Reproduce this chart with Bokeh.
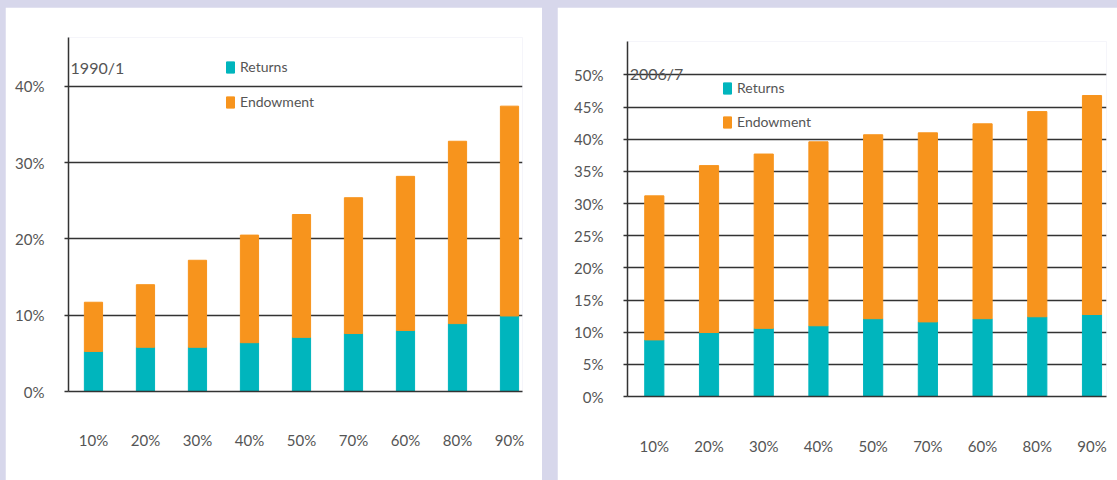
from bokeh.plotting import figure
from bokeh.layouts import row, column
from bokeh.models import (ColumnDataSource, FixedTicker, PrintfTickFormatter, Range1d,
                          Legend, LegendItem, Label, Spacer)
from bokeh.embed import file_html
from bokeh.resources import INLINE

# ---- data ----
categories = ["10%", "20%", "30%", "40%", "50%", "70%", "60%", "80%", "90%"]

title_1990 = "1990/1"
returns_1990 = [5.25, 5.8, 5.8, 6.4, 7.1, 7.6, 8.0, 8.9, 9.9]
total_1990 = [11.7, 14.0, 17.2, 20.5, 23.2, 25.4, 28.2, 32.8, 37.4]
yticks_1990 = [0, 10, 20, 30, 40]

title_2006 = "2006/7"
returns_2006 = [8.8, 9.95, 10.6, 11.0, 12.1, 11.6, 12.1, 12.4, 12.75]
total_2006 = [31.2, 35.9, 37.7, 39.6, 40.7, 41.0, 42.4, 44.3, 46.8]
yticks_2006 = [0, 5, 10, 15, 20, 25, 30, 35, 40, 45, 50]

TEAL = "#00b5bd"
ORANGE = "#f7941d"
BG = "#d7d7eb"
FONT = "Lato"
TXT = "#555555"


def make_panel(title, returns, total, yticks, width, height, x_range, y_end,
               mb_left, mb_right, mb_top, mb_bottom, title_xy, legend_loc, label_std,
               legend_spacing):
    endow = [t - r for t, r in zip(total, returns)]
    xs = list(range(len(categories)))
    src = ColumnDataSource(dict(x=xs, returns=returns, endow=endow, total=total))

    p = figure(width=width, height=height, output_backend="svg", toolbar_location=None,
               x_range=Range1d(*x_range), y_range=Range1d(0, y_end),
               min_border_left=mb_left, min_border_right=mb_right,
               min_border_top=mb_top, min_border_bottom=mb_bottom)
    p.outline_line_color = None
    p.background_fill_color = "white"
    p.border_fill_color = "white"

    r1 = p.vbar(x="x", bottom=0, top="returns", width=0.35, color=TEAL, source=src)
    r2 = p.vbar(x="x", bottom="returns", top="total", width=0.35, color=ORANGE, source=src)

    p.xgrid.visible = False
    p.ygrid.ticker = FixedTicker(ticks=yticks)
    p.ygrid.grid_line_color = "#333333"
    p.ygrid.grid_line_width = 1.5

    p.yaxis.ticker = FixedTicker(ticks=yticks)
    p.yaxis.formatter = PrintfTickFormatter(format="%d%%")
    p.yaxis.major_tick_out = 4
    p.yaxis.major_tick_in = 0
    p.yaxis.minor_tick_line_color = None
    p.yaxis.major_tick_line_color = "#333333"
    p.yaxis.major_tick_line_width = 1.5
    p.yaxis.axis_line_color = "#333333"
    p.yaxis.axis_line_width = 1.5
    p.yaxis.major_label_standoff = 20
    p.yaxis.major_label_text_font = FONT
    p.yaxis.major_label_text_font_size = "15px"
    p.yaxis.major_label_text_color = TXT

    p.xaxis.ticker = FixedTicker(ticks=xs)
    p.xaxis.major_label_overrides = {i: c for i, c in enumerate(categories)}
    p.xaxis.major_tick_line_color = None
    p.xaxis.minor_tick_line_color = None
    p.xaxis.axis_line_color = "#333333"
    p.xaxis.axis_line_width = 1.5
    p.xaxis.major_label_standoff = label_std
    p.xaxis.major_label_text_font = FONT
    p.xaxis.major_label_text_font_size = "15px"
    p.xaxis.major_label_text_color = TXT

    p.add_layout(Label(x=title_xy[0], y=title_xy[1], text=title, text_font=FONT,
                       text_font_size="16px", text_color=TXT, text_baseline="middle"))

    legend = Legend(items=[LegendItem(label="Returns", renderers=[r1]),
                           LegendItem(label="Endowment", renderers=[r2])],
                    location=legend_loc, orientation="vertical",
                    glyph_width=10, glyph_height=14, label_height=14,
                    label_standoff=5, spacing=legend_spacing, padding=0, margin=0,
                    border_line_color=None, background_fill_alpha=0,
                    label_text_font=FONT, label_text_font_size="14px",
                    label_text_color=TXT)
    p.add_layout(legend)
    return p


p1 = make_panel(title_1990, returns_1990, total_1990, yticks_1990,
                width=537, height=473, x_range=(-0.48, 8.25), y_end=46.4,
                mb_left=63, mb_right=20, mb_top=30, mb_bottom=89,
                title_xy=(-0.44, 42.5), legend_loc=(157, 281), label_std=33,
                legend_spacing=18)

p2 = make_panel(title_2006, returns_2006, total_2006, yticks_2006,
                width=560, height=473, x_range=(-0.49, 8.265), y_end=55.2,
                mb_left=70, mb_right=11, mb_top=34, mb_bottom=84,
                title_xy=(-0.45, 50.3), legend_loc=(95, 266), label_std=34,
                legend_spacing=17)

left = column(p1, spacing=0)
right = column(p2, spacing=0)

layout = column(
    Spacer(width=1117, height=7, styles={"background-color": BG}),
    row(Spacer(width=5, height=473, styles={"background-color": BG}), left,
        Spacer(width=15, height=473, styles={"background-color": BG}), right,
        spacing=0, styles={"background-color": BG}),
    spacing=0, styles={"background-color": BG})

open("out.html", "w").write(file_html(layout, INLINE))
